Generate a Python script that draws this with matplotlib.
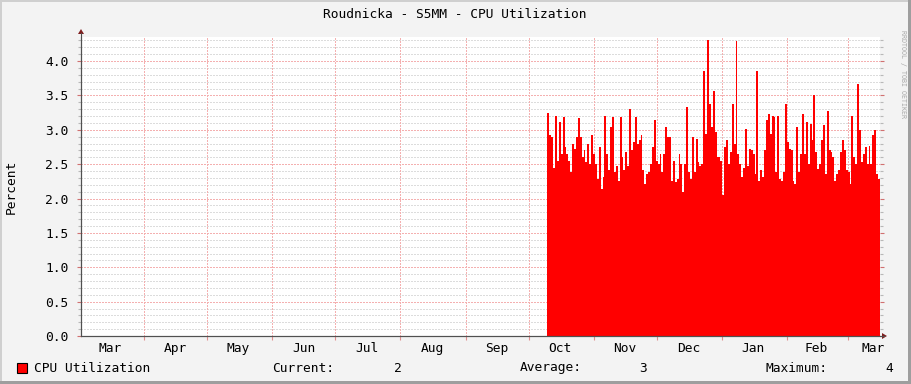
import matplotlib
matplotlib.use("Agg")
import matplotlib.pyplot as plt
import matplotlib.dates as mdates
import numpy as np
import pandas as pd
from matplotlib.patches import Rectangle, Polygon
from matplotlib.ticker import MultipleLocator, FixedLocator, NullFormatter, FixedFormatter

# ---------------- data ----------------
title = "Roudnicka - S5MM - CPU Utilization"
y_label = "Percent"
series_name = "CPU Utilization"
legend_current = "2"
legend_average = "3"
legend_maximum = "4"
watermark = "RRDTOOL / TOBI OETIKER"

axis_start = "2019-03-02"
axis_end = "2020-03-16 06:00"
data_start = "2019-10-10"

cpu_oct_nov = [3.24, 2.92, 2.90, 2.45, 3.20, 2.55, 3.11, 2.65, 3.18, 2.75, 2.65, 2.55,
               2.38, 2.80, 2.72, 2.90, 3.17, 2.90, 2.60, 2.70, 2.53, 2.80, 2.50, 2.92,
               2.65, 2.50, 2.29, 2.75, 2.14, 2.31, 3.20, 2.65, 2.41, 3.04, 3.18, 2.38,
               2.48, 2.26, 3.18, 2.60, 2.41, 2.67, 2.48, 3.30, 2.70, 2.82, 3.18, 2.80,
               2.85, 2.92, 2.41, 2.21, 2.36, 2.38, 2.50, 2.75, 3.14, 2.55, 2.50, 2.65,
               2.38]
cpu_dec_jan = [2.65, 3.04, 2.90, 2.90, 2.26, 2.55, 2.24, 2.29, 2.65, 2.50, 2.09, 2.50,
               3.33, 2.38, 2.29, 2.90, 2.38, 2.87, 2.53, 2.48, 2.50, 3.86, 2.94, 4.30,
               3.38, 3.04, 3.57, 2.97, 2.60, 2.60, 2.55, 2.05, 2.75, 2.85, 2.50, 2.67,
               3.38, 2.80, 4.29, 2.65, 2.50, 2.31, 2.45, 3.01, 2.48, 2.72, 2.70, 2.65,
               2.36, 3.86, 2.26, 2.41, 2.31, 2.70, 3.14, 3.23, 2.94, 3.20]
cpu_feb_mar = [3.18, 2.38, 3.20, 2.29, 2.26, 2.38, 3.38, 2.82, 2.72, 2.70, 2.26, 2.21,
               3.04, 2.38, 2.65, 3.23, 2.65, 3.11, 2.50, 3.09, 2.85, 3.50, 2.67, 2.43,
               2.50, 2.85, 3.07, 2.36, 3.28, 2.70, 2.67, 2.60, 2.26, 2.36, 2.41, 2.67,
               2.85, 2.70, 2.41, 2.38, 2.21, 3.20, 2.60, 2.50, 3.67, 2.99, 2.53, 2.65,
               2.75, 2.50, 2.77, 2.50, 2.92, 2.99, 2.36, 2.29]
cpu = np.array(cpu_oct_nov + cpu_dec_jan + cpu_feb_mar)

month_starts = ["2019-04-01", "2019-05-01", "2019-06-01", "2019-07-01", "2019-08-01",
                "2019-09-01", "2019-10-01", "2019-11-01", "2019-12-01", "2020-01-01",
                "2020-02-01", "2020-03-01"]
month_label_dates = ["2019-03-16", "2019-04-16", "2019-05-16", "2019-06-16", "2019-07-16",
                     "2019-08-16", "2019-09-16", "2019-10-16", "2019-11-16", "2019-12-16",
                     "2020-01-16", "2020-02-15", "2020-03-13"]
month_labels = ["Mar", "Apr", "May", "Jun", "Jul", "Aug", "Sep", "Oct", "Nov", "Dec",
                "Jan", "Feb", "Mar"]

# ---------------- style ----------------
W, H = 911, 384
canvas = "#F3F3F3"
mono = ["DejaVu Sans Mono"]
fs = 9.3
minor_grid = "#DCDCDC"
major_grid = "#F4B0B0"
axis_col = "#505050"
arrow_col = "#7F1F1F"

fig = plt.figure(figsize=(W / 100, H / 100), dpi=100)
fig.patch.set_facecolor(canvas)

# 3D-ish border
fig.add_artist(Rectangle((0, 1 - 2 / H), 1, 2 / H, transform=fig.transFigure, color="#CFCFCF", lw=0))
fig.add_artist(Rectangle((0, 0), 2 / W, 1, transform=fig.transFigure, color="#CFCFCF", lw=0))
fig.add_artist(Rectangle((0, 0), 1, 3 / H, transform=fig.transFigure, color="#9E9E9E", lw=0))
fig.add_artist(Rectangle((1 - 3 / W, 0), 3 / W, 1, transform=fig.transFigure, color="#9E9E9E", lw=0))

L, R, T, B = 81, 880, 37, 336
ax = fig.add_axes([L / W, 1 - B / H, (R - L) / W, (B - T) / H])
ax.set_facecolor("white")

x0 = mdates.date2num(pd.Timestamp(axis_start))
x1 = mdates.date2num(pd.Timestamp(axis_end))
xd = mdates.date2num(pd.Timestamp(data_start))
ax.set_xlim(x0, x1)
ax.set_ylim(0, 4.35)

# grid (1px dotted)
dots = (0, (1.4, 1.4))
for v in np.arange(0.1, 4.35, 0.1):
    major = abs(v / 0.5 - round(v / 0.5)) < 1e-6
    ax.axhline(v, color=major_grid if major else minor_grid, lw=0.72,
               linestyle=dots, zorder=1, snap=True, antialiased=False)
for d in month_starts:
    ax.axvline(mdates.date2num(pd.Timestamp(d)), color=major_grid, lw=0.72,
               linestyle=dots, zorder=1, snap=True, antialiased=False)

# data area
edges = np.linspace(xd, x1, len(cpu) + 1)
ax.fill_between(edges, np.append(cpu, cpu[-1]), 0, step="post",
                color="#FF0000", lw=0, zorder=2)

# spines
for s in ["top", "right"]:
    ax.spines[s].set_visible(False)
for s in ["left", "bottom"]:
    ax.spines[s].set_color(axis_col)
    ax.spines[s].set_linewidth(0.8)
    ax.spines[s].set_zorder(5)

def px(xp, yp):
    return (xp / W, 1 - yp / H)

fig.add_artist(plt.Line2D([L / W, L / W], [1 - B / H, 1 - 33 / H], transform=fig.transFigure,
                          color=axis_col, lw=0.8))
fig.add_artist(plt.Line2D([L / W, 884 / W], [1 - B / H, 1 - B / H], transform=fig.transFigure,
                          color=axis_col, lw=0.8))
fig.add_artist(Polygon([px(L - 3, 34), px(L + 3, 34), px(L, 29)], closed=True,
                       transform=fig.transFigure, color=arrow_col, lw=0))
fig.add_artist(Polygon([px(882, B - 3), px(882, B + 3), px(887, B)], closed=True,
                       transform=fig.transFigure, color=arrow_col, lw=0))

# ticks
ax.yaxis.set_major_locator(MultipleLocator(0.5))
ax.yaxis.set_minor_locator(MultipleLocator(0.1))
ax.yaxis.set_major_formatter(matplotlib.ticker.FormatStrFormatter("%.1f"))
ax.tick_params(axis="y", which="major", length=3, width=0.8, color="#D07070",
               direction="out", pad=6, labelsize=fs, labelcolor="black", right=True)
ax.tick_params(axis="y", which="minor", length=2, width=0.8, color="#B8B8B8",
               direction="out", right=True)
for lab in ax.get_yticklabels():
    lab.set_family(mono)

ax.xaxis.set_major_locator(FixedLocator([mdates.date2num(pd.Timestamp(d)) for d in month_starts]))
ax.xaxis.set_major_formatter(NullFormatter())
ax.xaxis.set_minor_locator(FixedLocator([mdates.date2num(pd.Timestamp(d)) for d in month_label_dates]))
ax.xaxis.set_minor_formatter(FixedFormatter(month_labels))
ax.tick_params(axis="x", which="major", length=3, width=0.8, color="#E09090", direction="out")
ax.tick_params(axis="x", which="minor", length=0, pad=4, labelsize=fs)
for lab in ax.xaxis.get_minorticklabels():
    lab.set_family(mono)

# texts
fig.text(455 / W, 1 - 14 / H, title, ha="center", va="center", fontsize=fs, family=mono)
fig.text(11 / W, 1 - 187 / H, y_label, ha="center", va="center", rotation=90,
         fontsize=fs, family=mono)
fig.text(903 / W, 1 - 30 / H, watermark, ha="center", va="top", rotation=270,
         fontsize=4.8, family=mono, color="#A8A8A8")

# legend
ly = 1 - 368 / H
fig.add_artist(Rectangle((17 / W, 1 - 373 / H), 10 / W, 10 / H, transform=fig.transFigure,
                         facecolor="#FF0000", edgecolor="black", lw=0.8))
fig.text(34 / W, ly, series_name, ha="left", va="center", fontsize=fs, family=mono)
fig.text(272 / W, ly, "Current:", ha="left", va="center", fontsize=fs, family=mono)
fig.text(402 / W, ly, legend_current, ha="right", va="center", fontsize=fs, family=mono)
fig.text(520 / W, ly, "Average:", ha="left", va="center", fontsize=fs, family=mono)
fig.text(647 / W, ly, legend_average, ha="right", va="center", fontsize=fs, family=mono)
fig.text(765 / W, ly, "Maximum:", ha="left", va="center", fontsize=fs, family=mono)
fig.text(893 / W, ly, legend_maximum, ha="right", va="center", fontsize=fs, family=mono)

fig.savefig("out.png", dpi=100, facecolor=canvas)
